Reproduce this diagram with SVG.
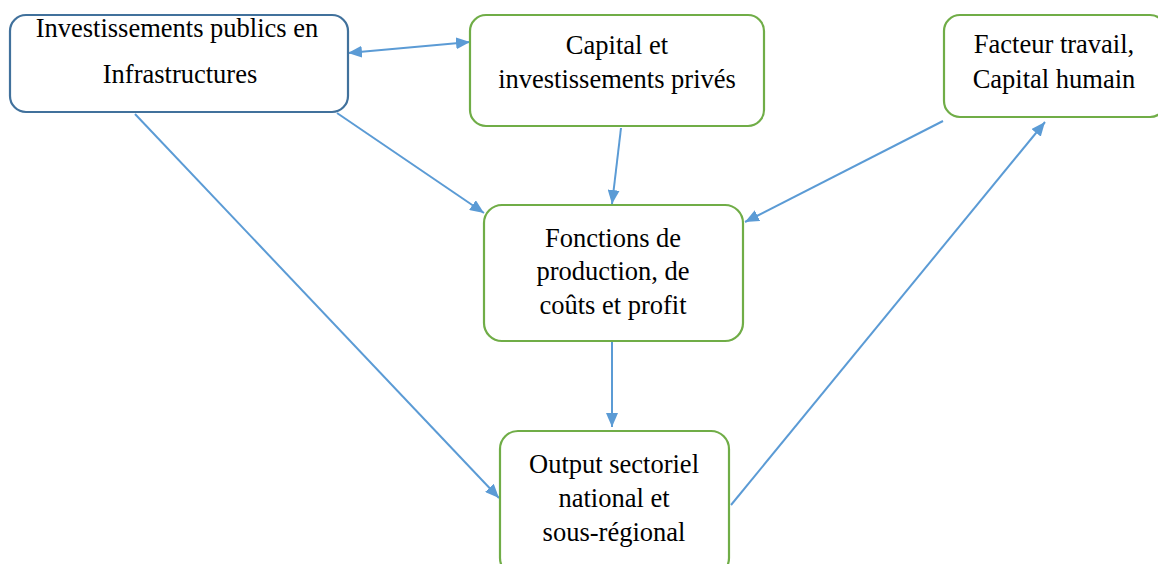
<svg xmlns="http://www.w3.org/2000/svg" width="1158" height="564" viewBox="0 0 1158 564">
<style>
.box{fill:#fff;stroke-width:2.2}
.blue{stroke:#41719C}
.green{stroke:#70AD47}
.c{stroke:#5B9BD5;stroke-width:2;fill:none}
</style>
<defs>
<marker id="ah" viewBox="0 0 14 12" refX="14" refY="6" markerWidth="14" markerHeight="12" markerUnits="userSpaceOnUse" orient="auto-start-reverse">
<path d="M0,0 L14,6 L0,12 Z" fill="#5B9BD5"/>
</marker>
</defs>
<rect width="1158" height="564" fill="#fff"/>
<g id="connectors">
<line class="c" x1="348" y1="53" x2="470" y2="42" marker-start="url(#ah)" marker-end="url(#ah)"/>
<line class="c" x1="337" y1="113" x2="484" y2="213" marker-end="url(#ah)"/>
<line class="c" x1="621" y1="128" x2="612" y2="204" marker-end="url(#ah)"/>
<line class="c" x1="943" y1="121" x2="745" y2="222" marker-end="url(#ah)"/>
<line class="c" x1="135" y1="114" x2="499" y2="498" marker-end="url(#ah)"/>
<line class="c" x1="612" y1="342" x2="612" y2="427" marker-end="url(#ah)"/>
<line class="c" x1="731" y1="505" x2="1045" y2="122" marker-end="url(#ah)"/>
</g>
<g font-family="'Liberation Serif', 'Times New Roman', serif" font-size="26.5" fill="#000" text-anchor="middle">
<g id="node-infra">
<rect class="box blue" x="10" y="15" width="338" height="97" rx="16"/>
<text x="177" y="37">Investissements publics en</text>
<text x="180" y="83">Infrastructures</text>
</g>
<g id="node-capital">
<rect class="box green" x="470" y="15" width="294" height="111" rx="16"/>
<text x="617" y="54">Capital et</text>
<text x="617" y="88">investissements privés</text>
</g>
<g id="node-facteur">
<rect class="box green" x="944" y="15" width="222" height="102" rx="16"/>
<text x="1054" y="53">Facteur travail,</text>
<text x="1054" y="88">Capital humain</text>
</g>
<g id="node-fonctions">
<rect class="box green" x="484" y="205" width="259" height="136" rx="18"/>
<text x="613" y="247">Fonctions de</text>
<text x="613" y="280">production, de</text>
<text x="613" y="314">coûts et profit</text>
</g>
<g id="node-output">
<rect class="box green" x="500" y="431" width="229" height="145" rx="18"/>
<text x="614" y="473">Output sectoriel</text>
<text x="614" y="507">national et</text>
<text x="614" y="541">sous-régional</text>
</g>
</g>
</svg>
